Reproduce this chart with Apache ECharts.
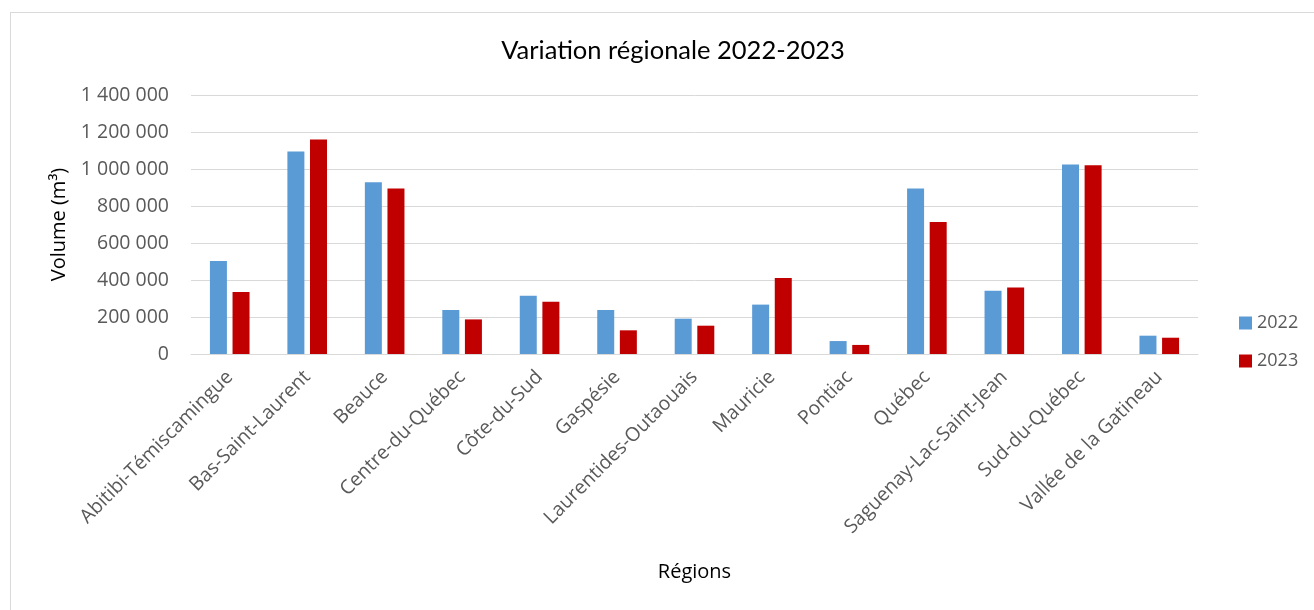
<!DOCTYPE html>
<html><head><meta charset="utf-8">
<script src="https://cdn.jsdelivr.net/npm/echarts@6/dist/echarts.min.js"></script>
<style>
html,body{margin:0;padding:0;background:#fff;}
#frame{position:absolute;left:10px;top:12px;width:1310px;height:610px;border:1px solid #d9d9d9;box-sizing:border-box;}
#c{position:absolute;left:0;top:0;width:1314px;height:610px;}
</style></head>
<body>
<div id="frame"></div>
<div id="c"></div>
<script>
const categories = ["Abitibi-Témiscamingue","Bas-Saint-Laurent","Beauce","Centre-du-Québec","Côte-du-Sud","Gaspésie","Laurentides-Outaouais","Mauricie","Pontiac","Québec","Saguenay-Lac-Saint-Jean","Sud-du-Québec","Vallée de la Gatineau"];
const values2022 = [503000,1094000,928000,238000,315000,238000,191000,267000,70000,895000,342000,1025000,99000];
const values2023 = [335000,1160000,894000,187000,283000,128000,153000,411000,49000,714000,360000,1020000,88000];
const seriesNames = ["2022","2023"];
const yTicks = {min:0,max:1400000,interval:200000};

const fmt = v => String(v).replace(/\B(?=(\d{3})+(?!\d))/g, ' ');
const FONT = '"Open Sans"';
const chart = echarts.init(document.getElementById('c'));
chart.setOption({
  animation:false,
  textStyle:{fontFamily:FONT},
  title:{text:'Variation régionale 2022-2023',left:668,top:33,textAlign:'center',
    textStyle:{fontFamily:'Lato',fontSize:25.5,fontWeight:'normal',color:'#000'}},
  legend:{orient:'vertical',left:1234,top:309,itemWidth:13,itemHeight:13,itemGap:20,icon:'rect',
    textStyle:{fontFamily:FONT,fontSize:18,color:'#595959',padding:[0,0,0,0]},data:seriesNames},
  grid:{left:191,right:116,top:95,bottom:256,containLabel:false},
  xAxis:{type:'category',data:categories,
    name:'Régions',nameLocation:'middle',nameGap:208,
    nameTextStyle:{fontFamily:FONT,fontSize:20,color:'#000'},
    axisLine:{lineStyle:{color:'#d9d9d9',width:1}},axisTick:{show:false},
    axisLabel:{rotate:45,interval:0,fontFamily:FONT,fontSize:19.5,color:'#595959',margin:20}},
  yAxis:{type:'value',min:yTicks.min,max:yTicks.max,interval:yTicks.interval,
    name:'Volume (m³)',nameLocation:'middle',nameGap:122,nameRotate:90,
    nameTextStyle:{fontFamily:FONT,fontSize:20,color:'#000'},
    axisLine:{show:false},axisTick:{show:false},
    splitLine:{lineStyle:{color:'#d9d9d9',width:1}},
    axisLabel:{formatter:fmt,fontFamily:FONT,fontSize:19.5,color:'#595959',margin:22}},
  series:[
    {name:seriesNames[0],type:'bar',data:values2022,barWidth:17,barGap:'33%',itemStyle:{color:'#5b9bd5'}},
    {name:seriesNames[1],type:'bar',data:values2023,barWidth:17,barGap:'33%',itemStyle:{color:'#c00000'}}
  ]
});
</script>
</body></html>
